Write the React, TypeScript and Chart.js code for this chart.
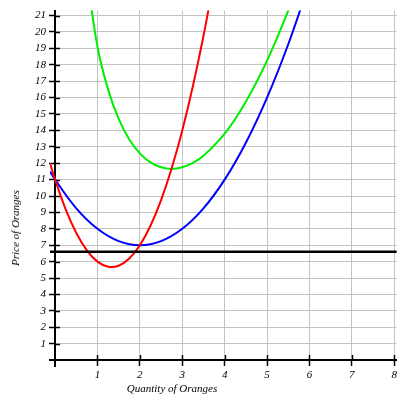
import { useEffect, useRef } from 'react'
import { Chart, registerables } from 'chart.js'

Chart.register(...registerables)

// axis ticks
const xTicks = [1, 2, 3, 4, 5, 6, 7, 8]
const yTicks = [1, 2, 3, 4, 5, 6, 7, 8, 9, 10, 11, 12, 13, 14, 15, 16, 17, 18, 19, 20, 21]

// red curve
const mcX = [-0.12, 0, 0.25, 0.5, 0.75, 1, 1.25, 1.5, 1.75, 2, 2.25, 2.5, 2.75, 3, 3.25, 3.5, 3.75]
const mcY = [12.0, 11.0, 9.19, 7.75, 6.69, 6.0, 5.69, 5.75, 6.19, 7.0, 8.19, 9.75, 11.69, 14.0, 16.69, 19.75, 23.19]

// blue curve
const avcX = [-0.12, 0, 0.5, 1, 1.5, 2, 2.5, 3, 3.5, 4, 4.5, 5, 5.5, 6]
const avcY = [11.49, 11.0, 9.25, 8.0, 7.25, 7.0, 7.25, 8.0, 9.25, 11.0, 13.25, 16.0, 19.25, 23.0]

// green curve
const atcX = [0.75, 1, 1.25, 1.5, 1.75, 2, 2.25, 2.5, 2.75, 3, 3.25, 3.5, 4, 4.5, 5, 5.5, 5.75]
const atcY = [23.5, 19.1, 16.5, 14.7, 13.45, 12.6, 12.05, 11.75, 11.65, 11.75, 12.02, 12.45, 13.8, 15.75, 18.25, 21.3, 23.0]

// black horizontal price line
const priceX = [-0.12, 8.06]
const priceY = [6.6, 6.6]

const zip = (xs: number[], ys: number[]) => xs.map((x, i) => ({ x, y: ys[i] }))

const tickFont = { family: "'Liberation Serif', 'Times New Roman', serif", style: 'italic' as const, size: 11 }

// inner half of the crossing tick marks
const innerTicks = {
  id: 'innerTicks',
  beforeDatasetsDraw(chart: Chart) {
    const { ctx } = chart
    const xs = chart.scales.x, ys = chart.scales.y
    const x0 = xs.getPixelForValue(0), y0 = ys.getPixelForValue(0)
    ctx.save()
    ctx.strokeStyle = '#000'
    ctx.lineWidth = 1.5
    ctx.beginPath()
    xTicks.forEach(v => {
      const px = Math.round(xs.getPixelForValue(v)) + 0.5
      ctx.moveTo(px, y0); ctx.lineTo(px, y0 - 5)
    })
    yTicks.forEach(v => {
      const py = Math.round(ys.getPixelForValue(v)) + 0.5
      ctx.moveTo(x0, py); ctx.lineTo(x0 + 5, py)
    })
    ctx.stroke()
    ctx.restore()
  }
}

export default function App() {
  const canvasRef = useRef<HTMLCanvasElement>(null)
  const chartRef = useRef<Chart | null>(null)

  useEffect(() => {
    if (!canvasRef.current) return
    if (chartRef.current) chartRef.current.destroy()

    const line = (data: { x: number, y: number }[], color: string, width: number, tension = 0.4) => ({
      type: 'line' as const,
      data,
      xAxisID: 'x',
      yAxisID: 'y',
      borderColor: color,
      borderWidth: width,
      pointRadius: 0,
      fill: false,
      tension,
    })

    chartRef.current = new Chart(canvasRef.current, {
      type: 'line',
      data: {
        datasets: [
          line(zip(priceX, priceY), '#000000', 2.5, 0),
          line(zip(mcX, mcY), '#ff0000', 2),
          line(zip(atcX, atcY), '#00ee00', 2),
          line(zip(avcX, avcY), '#0000ff', 2),
        ]
      },
      options: {
        animation: false,
        responsive: true,
        maintainAspectRatio: false,
        layout: { padding: { left: 35, right: 2, top: 7, bottom: 34 } },
        plugins: { legend: { display: false }, tooltip: { enabled: false } },
        scales: {
          x: {
            type: 'linear',
            min: -0.12, max: 8.06,
            position: { y: 0 },
            afterBuildTicks: s => { s.ticks = xTicks.map(value => ({ value })) },
            grid: { color: '#c4c4c4', lineWidth: 1, tickColor: '#000', tickLength: 5, tickWidth: 1.5 },
            border: { color: '#000', width: 2 },
            ticks: { color: '#000', font: tickFont, padding: 3, maxRotation: 0 },
          },
          y: {
            type: 'linear',
            min: -0.36, max: 21.3,
            position: { x: 0 },
            afterBuildTicks: s => { s.ticks = yTicks.map(value => ({ value })) },
            grid: { color: '#c4c4c4', lineWidth: 1, tickColor: '#000', tickLength: 5, tickWidth: 1.5 },
            border: { color: '#000', width: 2 },
            ticks: { display: false },
          },
          // labels of the value axis, kept to the left of the plot
          yl: {
            type: 'linear',
            min: -0.36, max: 21.3,
            position: 'left',
            afterBuildTicks: s => { s.ticks = yTicks.map(value => ({ value })) },
            afterFit: s => { s.width = 15 },
            grid: { display: false, drawTicks: false },
            border: { display: false },
            ticks: { color: '#000', font: tickFont, padding: 4 },
          }
        }
      },
      plugins: [innerTicks]
    })

    return () => { chartRef.current?.destroy() }
  }, [])

  const titleStyle: React.CSSProperties = {
    position: 'absolute',
    fontFamily: "'Liberation Serif', 'Times New Roman', serif",
    fontStyle: 'italic',
    fontSize: 11,
    color: '#000',
    whiteSpace: 'nowrap',
  }

  return (
    <div style={{ position: 'absolute', left: 0, top: 0, width: 400, height: 400, background: '#fff' }}>
      <canvas ref={canvasRef} />
      <div style={{ ...titleStyle, left: 172, top: 388, transform: 'translate(-50%, -50%)' }}>Quantity of Oranges</div>
      <div style={{ ...titleStyle, left: 15, top: 228, transform: 'translate(-50%, -50%) rotate(-90deg)' }}>Price of Oranges</div>
    </div>
  )
}
